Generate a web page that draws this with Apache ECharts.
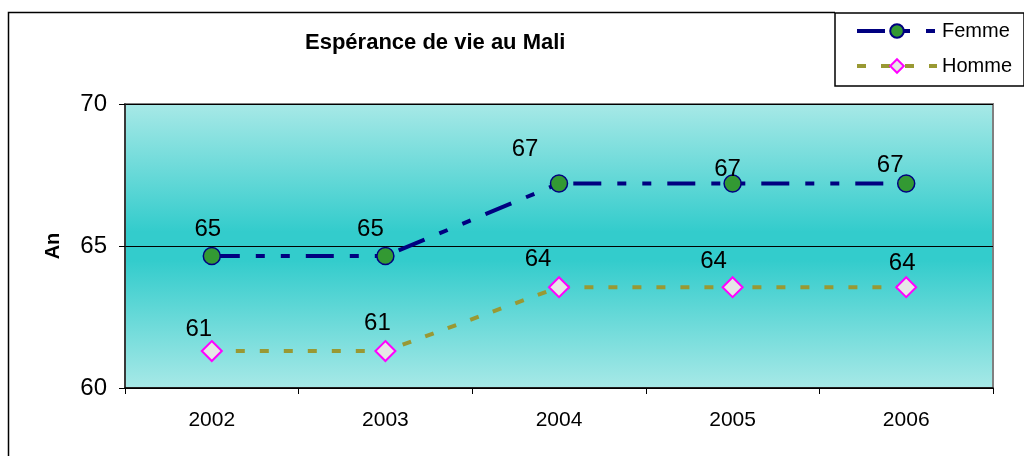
<!DOCTYPE html>
<html>
<head>
<meta charset="utf-8">
<script src="https://cdn.jsdelivr.net/npm/echarts@6/dist/echarts.min.js"></script>
<style>
html,body{margin:0;padding:0;background:#fff;}
#chart{width:1024px;height:456px;}
</style>
</head>
<body>
<div id="chart"></div>
<script>
// ---- data ----
const categories = ['2002', '2003', '2004', '2005', '2006'];
const femme = [64.65, 64.65, 67.2, 67.2, 67.2];
const homme = [61.3, 61.3, 63.55, 63.55, 63.55];
const yTicks = [60, 65, 70];
const titleText = 'Espérance de vie au Mali';
const yName = 'An';

// ---- layout (label nudges, px) ----
const femmeLabelOffsets = [[-4, 0], [-15, 0], [-34, -8], [-5, 12], [-16, 8]];
const hommeLabelOffsets = [[-13, 6], [-8, 0], [-21, 0], [-19, 2], [-4, 4]];

const FONT = 'Liberation Sans, Arial, Helvetica, sans-serif';

function build(values, offsets) {
  return values.map((v, i) => ({ value: v, label: { offset: offsets[i] } }));
}

const chart = echarts.init(document.getElementById('chart'), null, { renderer: 'canvas' });
chart.setOption({
  animation: false,
  backgroundColor: '#ffffff',
  textStyle: { fontFamily: FONT },
  title: {
    text: titleText,
    left: 305, top: 32, padding: 0,
    textStyle: { fontFamily: FONT, fontWeight: 'bold', fontSize: 22, color: '#000' }
  },
  legend: {
    orient: 'vertical',
    left: 835, top: 13,
    padding: [8, 12, 10, 20],
    itemWidth: 80, itemHeight: 17, itemGap: 15,
    borderColor: '#000', borderWidth: 1.5,
    backgroundColor: '#fff',
    lineStyle: { width: 4 },
    textStyle: { fontFamily: FONT, fontSize: 20, color: '#000', lineHeight: 20 },
    data: ['Femme', 'Homme']
  },
  grid: {
    left: 125, top: 104, right: 31, bottom: 68,
    show: true,
    borderColor: '#808080', borderWidth: 2,
    backgroundColor: new echarts.graphic.LinearGradient(0, 0, 0, 1, [
      { offset: 0, color: '#a8e9e7' },
      { offset: 0.45, color: '#33cccc' },
      { offset: 0.55, color: '#33cccc' },
      { offset: 1, color: '#a8e9e7' }
    ])
  },
  xAxis: {
    type: 'category',
    data: categories,
    boundaryGap: true,
    axisLine: { show: true, lineStyle: { color: '#000', width: 1.5 } },
    axisTick: { show: true, length: 6, lineStyle: { color: '#000' } },
    axisLabel: { fontFamily: FONT, fontSize: 21, color: '#000', margin: 22 }
  },
  yAxis: {
    type: 'value',
    min: yTicks[0], max: yTicks[yTicks.length - 1], interval: yTicks[1] - yTicks[0],
    name: yName,
    nameLocation: 'middle',
    nameGap: 62,
    nameTextStyle: { fontFamily: FONT, fontWeight: 'bold', fontSize: 20, color: '#000' },
    axisLine: { show: true, lineStyle: { color: '#222', width: 1.5 } },
    axisTick: { show: true, length: 6, lineStyle: { color: '#000' } },
    axisLabel: { fontFamily: FONT, fontSize: 24, color: '#000', margin: 18 },
    splitLine: { show: true, lineStyle: { color: '#000', width: 1 } }
  },
  series: [
    {
      name: 'Femme',
      type: 'line',
      data: build(femme, femmeLabelOffsets),
      symbol: 'circle',
      symbolSize: 17,
      itemStyle: { color: '#339933', borderColor: '#000080', borderWidth: 1.5 },
      lineStyle: { color: '#000080', width: 4, type: [28, 16, 9, 16, 9, 16] },
      label: {
        show: true, position: 'top', distance: 5,
        fontFamily: FONT, fontSize: 24, color: '#000',
        formatter: p => Math.round(p.value)
      },
      z: 3
    },
    {
      name: 'Homme',
      type: 'line',
      data: build(homme, hommeLabelOffsets),
      symbol: 'diamond',
      symbolSize: 20,
      itemStyle: { color: '#e6e6e6', borderColor: '#ff00ff', borderWidth: 2 },
      lineStyle: { color: '#999933', width: 4, type: [9, 15] },
      label: {
        show: true, position: 'top', distance: 5,
        fontFamily: FONT, fontSize: 24, color: '#000',
        formatter: p => Math.round(p.value)
      },
      z: 2
    }
  ],
  graphic: [
    {
      type: 'polyline',
      shape: { points: [[8.5, 456], [8.5, 12.5], [835, 12.5]] },
      style: { stroke: '#000', lineWidth: 1.5, fill: null },
      silent: true
    }
  ]
});
</script>
</body>
</html>
